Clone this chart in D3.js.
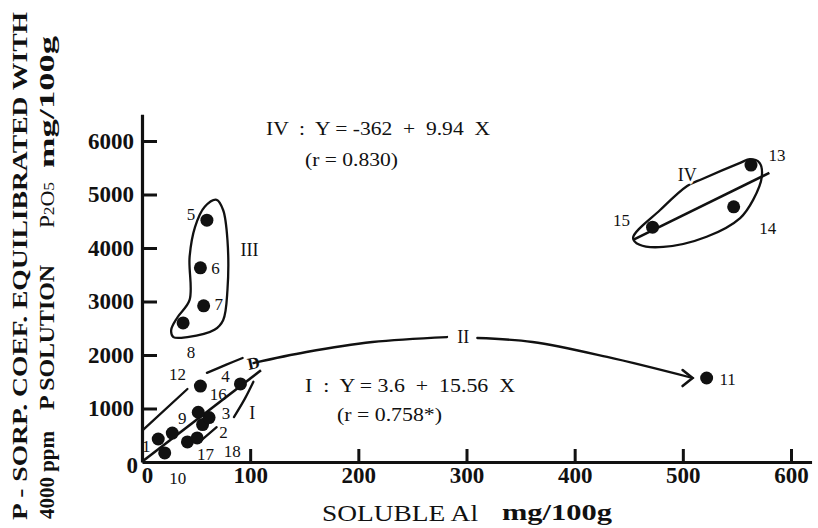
<!DOCTYPE html>
<html>
<head>
<meta charset="utf-8">
<script src="https://cdn.jsdelivr.net/npm/d3@7/dist/d3.min.js"></script>
<style>
  html, body { margin: 0; padding: 0; background: #fff; }
  svg { display: block; }
  text { font-family: "Liberation Serif", "DejaVu Serif", serif; fill: #111; white-space: pre; }
</style>
</head>
<body>
<svg id="chart" width="818" height="528"></svg>
<script>
// Soil samples: soluble Al (mg/100g) vs P-sorption coefficient (P2O5 mg/100g)
const sampleIds  = [1, 2, 3, 4, 5, 6, 7, 8, 9, 10, 11, 12, 13, 14, 15, 16, 17, 18];
const solubleAl  = [15, 56, 62, 91, 60, 54, 57, 38, 28, 21, 522, 54, 563, 547, 472, 52, 42, 51];
const pSorption  = [430, 700, 830, 1460, 4520, 3630, 2920, 2600, 540, 170, 1570, 1420, 5550, 4770, 4390, 930, 375, 450];

const xTicks = [0, 100, 200, 300, 400, 500, 600];
const yTicks = [0, 1000, 2000, 3000, 4000, 5000, 6000];

// Regression lines for groups I and IV
const regI  = { a: 3.6,  b: 15.56, from: 0,   to: 110 };
const regIV = { a: -362, b: 9.94,  from: 454, to: 580 };

// Group outlines (data units)
const outlineIII = [[69,4900],[75,4710],[79,4150],[79,3215],[75,2650],[67,2470],[42,2335],[29,2335],[27,2470],[33,2710],[44,3030],[44,3830],[49,4390],[58,4770]];
const outlineIV  = [[454,4190],[479,4710],[504,5160],[518,5290],[553,5590],[562,5660],[571,5590],[573,5330],[565,4900],[553,4560],[522,4210],[482,4020],[460,4060]];
const outlineIupper = [[1,600],[42,1365]];
const outlineIupper2 = [[60,1665],[78,1820],[93,1945]];
const outlineIright = [[103,1500],[95,1180],[85,840]];
const outlineIlower = [[55,410],[69,650]];
// Arrow II, from group I to sample 11
const arrowIIa = [[103,1850],[152,2056],[213,2243],[282,2336]];
const arrowIIb = [[310,2318],[361,2243],[430,1963],[509,1570]];

const svg = d3.select("#chart");
const x = d3.scaleLinear().domain([0, 600]).range([142, 791]);
const y = d3.scaleLinear().domain([0, 6000]).range([462, 141]);

// Axes
const xa = d3.scaleLinear().domain([0, 619]).range([x(0), x(619)]);
const ya = d3.scaleLinear().domain([0, 6500]).range([y(0), y(6500)]);

const gx = svg.append("g").attr("transform", `translate(0,${y(0)})`)
  .call(d3.axisBottom(xa).tickValues(xTicks).tickSizeInner(-13).tickSizeOuter(0).tickPadding(8).tickFormat(d3.format("d")));
const gy = svg.append("g").attr("transform", `translate(${x(0)},0)`)
  .call(d3.axisLeft(ya).tickValues(yTicks).tickSizeInner(-15).tickSizeOuter(0).tickPadding(8).tickFormat(d3.format("d")));

[gx, gy].forEach(g => {
  g.select(".domain").attr("stroke", "#111").attr("stroke-width", 3.2);
  g.selectAll(".tick line").attr("stroke", "#111").attr("stroke-width", 3);
  g.selectAll(".tick text").attr("fill", "#111").style("font-family", "'Liberation Serif', serif")
    .style("font-weight", "bold").style("font-size", "23px");
});
gx.selectAll(".tick text").attr("dy", "0.55em");
gx.selectAll(".tick").filter(d => d === 0).select("text").attr("dx", 5);
gx.selectAll(".tick").filter(d => d === 0).select("line").remove();
gy.selectAll(".tick").filter(d => d === 0).select("line").remove();
gy.selectAll(".tick").filter(d => d === 0).select("text").attr("dx", 4).attr("dy", "0.45em");

// Outlines
const lineOpen = d3.line().x(d => x(d[0])).y(d => y(d[1])).curve(d3.curveCatmullRom);
const lineClosed = d3.line().x(d => x(d[0])).y(d => y(d[1])).curve(d3.curveCatmullRomClosed);
const strokeStyle = sel => sel.attr("fill", "none").attr("stroke", "#111").attr("stroke-width", 2.3).attr("stroke-linecap", "round");

svg.append("path").attr("d", lineClosed(outlineIII)).call(strokeStyle);
svg.append("path").attr("d", lineClosed(outlineIV)).call(strokeStyle);
[outlineIupper, outlineIupper2, outlineIright, outlineIlower].forEach(o =>
  svg.append("path").attr("d", lineOpen(o)).call(strokeStyle));

// Regression lines
[regI, regIV].forEach(r => {
  svg.append("line")
    .attr("x1", x(r.from)).attr("y1", y(r.a + r.b * r.from))
    .attr("x2", x(r.to)).attr("y2", y(r.a + r.b * r.to))
    .attr("stroke", "#111").attr("stroke-width", 2.6);
});

// Arrow II
svg.append("path").attr("d", lineOpen(arrowIIa)).call(strokeStyle);
svg.append("path").attr("d", lineOpen(arrowIIb)).call(strokeStyle);
const tip = arrowIIb[arrowIIb.length - 1];
svg.append("path")
  .attr("d", `M${x(tip[0]) - 10},${y(tip[1]) - 8} L${x(tip[0])},${y(tip[1])} L${x(tip[0]) - 10},${y(tip[1]) + 8}`)
  .call(strokeStyle).attr("stroke-width", 2.6);

// Hand mark at the start of the arrow
svg.append("text").attr("x", x(103)).attr("y", y(1850))
  .attr("transform", `rotate(-12,${x(103)},${y(1850)})`)
  .attr("text-anchor", "middle").attr("dy", "0.35em")
  .style("font-size", "17px").style("font-weight", "bold").text("D");

// Sample points
const samples = sampleIds.map((id, i) => ({ id, al: solubleAl[i], p: pSorption[i] }));
svg.append("g").selectAll("circle")
  .data(samples)
  .join("circle")
  .attr("cx", d => x(d.al)).attr("cy", d => y(d.p)).attr("r", 6.5).attr("fill", "#111");

// Sample number labels (pixel offsets from each point)
const labelOffset = {
  1: [-12, 7], 2: [21, 7], 3: [17, -5], 4: [-15, -8], 5: [-16, -6], 6: [15, 0], 7: [15, -2],
  8: [8, 29], 9: [10, -15], 10: [13, 25], 11: [21, 1], 12: [-23, -12], 13: [26, -10],
  14: [34, 21], 15: [-31, -7], 16: [20, -18], 17: [18, 12], 18: [35, 13]
};
svg.append("g").selectAll("text")
  .data(samples)
  .join("text")
  .attr("x", d => x(d.al) + labelOffset[d.id][0])
  .attr("y", d => y(d.p) + labelOffset[d.id][1])
  .attr("text-anchor", "middle").attr("dy", "0.35em")
  .style("font-size", "17px").text(d => d.id);

// Group labels
const groupLabels = [["III", 79, 3960, 22], ["IV", 504, 5370, 0], ["II", 297, 2336, 0], ["I", 100, 920, 2]];
svg.append("g").selectAll("text").data(groupLabels).join("text")
  .attr("x", d => x(d[1]) + d[3]).attr("y", d => y(d[2]))
  .attr("text-anchor", "middle").attr("dy", "0.35em")
  .style("font-size", "18px")
  .attr("stroke", "#fff").attr("stroke-width", 5).attr("paint-order", "stroke")
  .text(d => d[0]);

// Regression equations
const eqs = [
  ["IV  :  Y = -362  +  9.94  X", 266, 135, 224],
  ["(r = 0.830)", 305, 166, 93],
  ["I  :  Y = 3.6  +  15.56  X", 305, 392, 210],
  ["(r = 0.758*)", 337, 421, 105]
];
svg.append("g").selectAll("text").data(eqs).join("text")
  .attr("x", d => d[1]).attr("y", d => d[2])
  .attr("textLength", d => d[3]).attr("lengthAdjust", "spacingAndGlyphs")
  .style("font-size", "19px").text(d => d[0]);

// Axis titles
svg.append("text").attr("x", 322).attr("y", 521)
  .attr("textLength", 156).attr("lengthAdjust", "spacingAndGlyphs")
  .style("font-size", "24px").text("SOLUBLE Al");
svg.append("text").attr("x", 502).attr("y", 520)
  .attr("textLength", 110).attr("lengthAdjust", "spacingAndGlyphs")
  .style("font-size", "23px").style("font-weight", "bold").text("mg/100g");

const yt = svg.append("g").attr("transform", "rotate(-90)");
yt.append("text").attr("x", -520).attr("y", 27)
  .attr("textLength", 508).attr("lengthAdjust", "spacingAndGlyphs")
  .style("font-size", "21px").style("font-weight", "bold").text("P - SORP. COEF. EQUILIBRATED WITH");
const yParts = [
  ["4000 ppm", 519, 88, "bold", 21],
  ["P SOLUTION", 410, 145, "bold", 21]
];
yParts.forEach(p => {
  yt.append("text").attr("x", -p[1]).attr("y", 54)
    .attr("textLength", p[2]).attr("lengthAdjust", "spacingAndGlyphs")
    .style("font-size", p[4] + "px").style("font-weight", p[3]).text(p[0]);
});
const p2o5 = yt.append("text").attr("x", -228).attr("y", 54)
  .attr("textLength", 46).attr("lengthAdjust", "spacingAndGlyphs");
p2o5.append("tspan").style("font-size", "20px").text("P");
p2o5.append("tspan").style("font-size", "15px").text("2");
p2o5.append("tspan").style("font-size", "19px").text("O");
p2o5.append("tspan").style("font-size", "15px").text("5");
yt.append("text").attr("x", -168).attr("y", 54)
  .attr("textLength", 132).attr("lengthAdjust", "spacingAndGlyphs")
  .style("font-size", "22px").style("font-weight", "bold").text("mg/100g");
</script>
</body>
</html>
